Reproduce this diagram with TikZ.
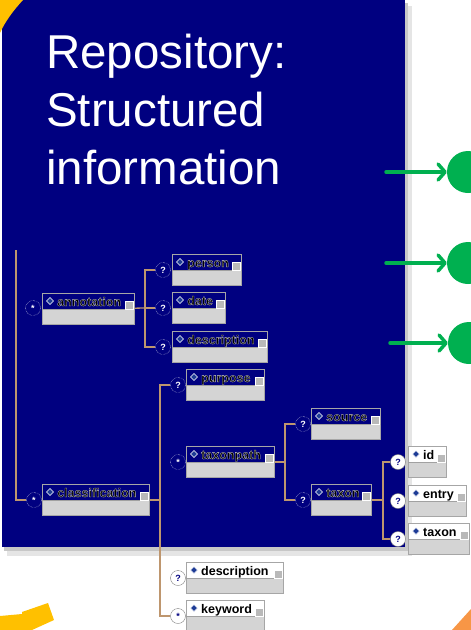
\documentclass[tikz,border=0pt]{standalone}
\usepackage{fontspec}
\setmainfont{Liberation Sans}
\setsansfont{Liberation Sans}
\usetikzlibrary{arrows.meta}

\definecolor{fondo}{RGB}{0,0,128}
\definecolor{verde}{RGB}{0,176,80}
\definecolor{amarillo}{RGB}{255,192,0}
\definecolor{naranja}{RGB}{247,150,70}
\definecolor{cafe}{RGB}{190,150,110}
\definecolor{gris}{RGB}{212,212,212}
\definecolor{rombo}{RGB}{30,60,150}

% letras negras con borde claro (dentro del fondo azul)
\newcommand{\borde}[1]{\special{pdf:code q 2 Tr 0.3 w 0.75 0.75 0.75 RG}#1\special{pdf:code Q}}

% caja de un elemento: nombre, x, y (arriba), ancho, etiqueta, color de arriba
\newcommand{\elemento}[6]{
	\node[caja, minimum width=#4pt,
		path picture={\fill[#6] (path picture bounding box.north west) rectangle ([yshift=-16pt]path picture bounding box.north east);}]
		(#1) at (#2,#3) {};
	\draw[gris!40!gray] ([yshift=-16pt]#1.north west) -- ([yshift=-16pt]#1.north east);
	\filldraw[fill=rombo, draw=white, line width=0.4pt] ([shift={(8,8)}]#1.north west)
		+(0,-3.5) -- +(3.5,0) -- +(0,3.5) -- +(-3.5,0) -- cycle;
	\node[etiqueta] at ([shift={(15,13)}]#1.north west) {#5};
	\filldraw[fill=gray!55, draw=white, line width=0.4pt] ([shift={(-10,8)}]#1.north east) rectangle ([shift={(-2,16)}]#1.north east);
}

\begin{document}
\begin{tikzpicture}[x=1pt, y=-1pt,
	caja/.style={draw=gray!70, line width=1pt, fill=gris, minimum height=31pt, inner sep=0pt, anchor=north west},
	etiqueta/.style={anchor=base west, inner sep=0pt, font=\fontsize{12.5}{14}\selectfont\bfseries, text=black},
	marca/.style={circle, draw=white, densely dotted, fill=fondo, inner sep=0pt, minimum size=15pt, font=\fontsize{9}{10}\selectfont\bfseries, text=white},
	fuera/.style={draw=gray, solid, fill=white, text=fondo},
	conector/.style={draw=cafe, line width=1.3pt},
	flecha/.style={draw=verde, line width=3.5pt, line cap=round, -{Straight Barb[length=7pt, width=16pt, line cap=round, line join=round]}},
	bola/.style={circle, fill=verde, minimum size=42pt, inner sep=0pt},
	titulo/.style={anchor=north west, inner sep=0pt, align=left, text=white, font=\fontsize{47.5}{58}\selectfont}]

	\useasboundingbox (0,0) rectangle (471,630);
	\clip (0,0) rectangle (471,630);

	% sombra y fondo azul
	\fill[black!10] (7,6) rectangle (412,556);
	\fill[black!22] (4,3) rectangle (408,551);
	\fill[fondo] (2,0) rectangle (405,547);

	% adornos de las esquinas
	\fill[amarillo] (0,0) -- (23,0) .. controls (12,12) and (5,22) .. (0,33) -- cycle;
	\fill[amarillo] (0,616) -- (22,614) -- (22,612) -- (48,603) -- (54,620) -- (32,630) -- (0,630) -- cycle;
	\fill[naranja] (452,630) -- (471,609) -- (471,630) -- cycle;

	% titulo
	\node[titulo] (titulo) at (46,34) {Repository:\\Structured\\information};

	% elementos del esquema
	\elemento{annotation}{42}{293}{92}{\borde{annotation}}{fondo}
	\elemento{person}{172}{254}{69}{\borde{person}}{fondo}
	\elemento{date}{172}{292}{53}{\borde{date}}{fondo}
	\elemento{descA}{172}{331}{95}{\borde{description}}{fondo}
	\elemento{purpose}{186}{369}{78}{\borde{purpose}}{fondo}
	\elemento{classification}{42}{484}{107}{\borde{classification}}{fondo}
	\elemento{taxonpath}{186}{446}{88}{\borde{taxonpath}}{fondo}
	\elemento{source}{311}{408}{69}{\borde{source}}{fondo}
	\elemento{taxonA}{311}{484}{60}{\borde{taxon}}{fondo}
	\elemento{id}{408}{446}{38}{id}{white}
	\elemento{entry}{408}{485}{58}{entry}{white}
	\elemento{taxonB}{408}{523}{61}{taxon}{white}
	\elemento{descB}{186}{562}{97}{description}{white}
	\elemento{keyword}{186}{600}{78}{keyword}{white}

	% marcas de cardinalidad
	\node[marca] (m-annotation) at (33,308) {*};
	\node[marca] (m-person) at (163,270) {?};
	\node[marca] (m-date) at (163,308) {?};
	\node[marca] (m-descA) at (163,347) {?};
	\node[marca] (m-purpose) at (178,385) {?};
	\node[marca] (m-classification) at (34,500) {*};
	\node[marca] (m-taxonpath) at (178,462) {*};
	\node[marca] (m-source) at (303,424) {?};
	\node[marca] (m-taxonA) at (303,500) {?};
	\node[marca, fuera] (m-id) at (398,462) {?};
	\node[marca, fuera] (m-entry) at (398,501) {?};
	\node[marca, fuera] (m-taxonB) at (398,539) {?};
	\node[marca, fuera] (m-descB) at (178,578) {?};
	\node[marca, fuera] (m-keyword) at (178,616) {*};

	% conectores
	\coordinate (raiz) at (16,250);
	\draw[conector] (raiz) |- (m-classification);

	\coordinate (ramaA) at (145,308);
	\draw[conector] (annotation) -- (ramaA);
	\draw[conector] (ramaA) |- (m-person);
	\draw[conector] (ramaA) |- (m-date);
	\draw[conector] (ramaA) |- (m-descA);

	\coordinate (ramaB) at (160,500);
	\draw[conector] (classification) -- (ramaB);
	\draw[conector] (ramaB) |- (m-purpose);
	\draw[conector] (ramaB) |- (m-keyword);

	\coordinate (ramaC) at (285,462);
	\draw[conector] (taxonpath) -- (ramaC);
	\draw[conector] (ramaC) |- (m-source);
	\draw[conector] (ramaC) |- (m-taxonA);

	\coordinate (ramaD) at (383,500);
	\draw[conector] (taxonA) -- (ramaD);
	\draw[conector] (ramaD) |- (m-id);
	\draw[conector] (ramaD) |- (m-taxonB);

	% flechas verdes
	\node[bola] (bola1) at (468,172) {};
	\node[bola] (bola2) at (468,263) {};
	\node[bola] (bola3) at (469,343) {};
	\coordinate (inicio1) at (386,172);
	\coordinate (inicio2) at (386,263);
	\coordinate (inicio3) at (390,343);
	\draw[flecha] (inicio1) -- (bola1);
	\draw[flecha] (inicio2) -- (bola2);
	\draw[flecha] (inicio3) -- (bola3);
\end{tikzpicture}
\end{document}
